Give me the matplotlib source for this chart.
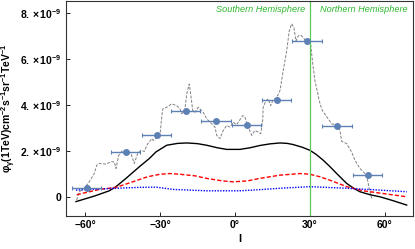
import matplotlib
matplotlib.use('Agg')
import matplotlib.pyplot as plt
import numpy as np

plt.rcParams['font.family'] = 'Liberation Sans'
plt.rcParams['mathtext.fontset'] = 'custom'
plt.rcParams['mathtext.rm'] = 'Liberation Sans'
plt.rcParams['mathtext.bf'] = 'Liberation Sans:bold'
plt.rcParams['mathtext.it'] = 'Liberation Sans:italic'

# measured flux points (units of 1e-9)
pt_l = [-59.3, -43.7, -31.3, -19.6, -7.5, 4.7, 16.7, 28.9, 40.9, 53.1]
pt_flux = [0.39, 1.94, 2.68, 3.76, 3.30, 3.14, 4.23, 6.78, 3.10, 0.95]
pt_lerr = [5.8, 5.8, 5.8, 5.8, 6.0, 5.9, 5.9, 5.9, 5.9, 5.9]

# observed profile (gray dashed)
obs_l = [-63.3, -62.3, -60.3, -58.3, -56.3, -55.3, -54.3, -51.6, -49.6, -48.3, -47.6,
         -46.5, -44.9, -42.9, -41.6, -40.3, -38.9, -37.6, -36.3, -34.9, -33.2, -32.7,
         -30.0, -29.3, -28.9, -27.3, -25.3, -23.3, -22.0, -21.3, -20.0, -19.3, -18.3,
         -17.7, -16.9, -16.0, -14.7, -12.7, -11.3, -9.3, -8.0, -7.3, -6.0, -4.7, -3.3,
         -2.0, -0.7, 0.7, 3.1, 4.0, 5.3, 6.7, 8.0, 9.3, 10.3, 11.1, 11.3, 12.4, 13.3,
         14.3, 15.1, 16.7, 17.7, 18.0, 19.3, 20.7, 21.7, 22.7, 23.6, 24.4, 25.3, 26.3,
         27.3, 28.4, 28.9, 29.7, 30.3, 30.7, 31.3, 32.0, 32.9, 33.7, 34.7, 35.3, 37.3,
         38.7, 40.0, 41.0, 42.0, 42.7, 44.7, 46.7, 48.0, 50.0, 51.3, 52.7, 53.3, 54.0,
         54.7]
obs_flux = [-0.13, 0.23, 0.38, 0.66, 1.02, 1.38, 1.46, 1.43, 1.53, 1.53, 1.24,
            1.81, 2.03, 1.96, 1.89, 1.46, 1.89, 2.03, 1.98, 2.32, 2.54, 2.46,
            2.68, 3.47, 3.83, 3.90, 4.05, 3.97, 3.83, 3.62, 3.83, 4.48, 4.91,
            4.48, 3.76, 3.68, 3.90, 3.68, 3.40, 3.18, 3.04, 2.68, 2.54, 2.89, 3.11,
            3.04, 3.25, 3.15, 3.54, 3.47, 3.04, 2.68, 2.89, 2.82, 2.75, 3.33, 3.90, 4.19, 4.26,
            3.97, 4.19, 4.33, 4.55, 4.62, 5.49, 6.35, 7.21, 7.53, 7.36, 6.78, 7.00, 7.04,
            6.93, 6.78, 6.64, 6.85, 6.64, 6.21, 5.63, 5.05, 4.62, 4.19, 3.83, 3.70, 3.40,
            3.18, 3.15, 3.12, 2.89, 2.42, 2.32, 1.95, 1.60, 1.24, 1.10, 0.95, 0.59, 0.23,
            -0.06]

# model curves
tot_l = [-63.6, -56.0, -50.3, -47.6, -43.6, -38.3, -34.3, -31.6, -27.3, -23.0, -19.3,
         -15.0, -11.3, -7.0, -3.3, 2.0, 6.0, 10.0, 14.0, 18.0, 21.0, 23.3, 27.0, 30.0,
         32.5, 35.3, 38.0, 40.7, 44.7, 47.5, 50.0, 54.0, 58.0, 63.0, 68.7]
tot_flux = [-0.20, 0.05, 0.27, 0.45, 0.81, 1.31, 1.67, 1.96, 2.25, 2.33, 2.35,
            2.32, 2.25, 2.14, 2.07, 2.07, 2.14, 2.24, 2.31, 2.35, 2.33, 2.28, 2.16, 2.03,
            1.85, 1.60, 1.32, 1.02, 0.59, 0.38, 0.23, 0.10, 0.01, -0.15, -0.35]

red_l = [-63.3, -54.3, -47.6, -40.9, -35.0, -30.0, -26.0, -22.0, -16.0, -11.3, -5.0,
         -0.7, 5.0, 10.0, 18.0, 26.0, 30.0, 34.0, 38.0, 44.7, 51.3, 60.0, 68.7]
red_flux = [0.10, 0.33, 0.42, 0.66, 0.88, 0.99, 1.02, 0.99, 0.92, 0.81, 0.70,
            0.66, 0.70, 0.81, 0.95, 1.02, 0.99, 0.88, 0.73, 0.45, 0.27, 0.14, 0.01]

blue_l = [-63.6, -47.6, -38.0, -31.6, -24.7, -11.3, 2.0, 10.0, 18.0, 30.0, 44.7, 58.0, 68.7]
blue_flux = [0.30, 0.38, 0.42, 0.43, 0.33, 0.27, 0.27, 0.32, 0.38, 0.45, 0.38, 0.30, 0.23]

fig = plt.figure(figsize=(4.15, 2.49), dpi=100)
ax = fig.add_axes([0.159, 0.133, 0.836, 0.863])

e = 1e-9
ax.plot(obs_l, np.array(obs_flux) * e, color='#808080', lw=0.7, ls=(0, (3, 1.5)))
ax.plot(tot_l, np.array(tot_flux) * e, color='black', lw=1.0)
ax.plot(red_l, np.array(red_flux) * e, color='red', lw=1.0, ls=(0, (3, 1.5)))
ax.plot(blue_l, np.array(blue_flux) * e, color='blue', lw=1.0, ls=(0, (1, 1)))
ax.errorbar(pt_l, np.array(pt_flux) * e, xerr=pt_lerr, fmt='o', color='#5E81B5',
            ms=4, elinewidth=1.0, capsize=1.5, capthick=0.8)

ax.axvline(30, color='#5BC85B', lw=0.9)
ax.text(28, 8.15e-9, 'Southern Hemisphere', color='#2DB82D', style='italic',
        fontsize=6.6, ha='right', va='center')
ax.text(34, 8.15e-9, 'Northern Hemisphere', color='#2DB82D', style='italic',
        fontsize=6.6, ha='left', va='center')

ax.set_xlim(-67.6, 71.2)
ax.set_ylim(-0.82e-9, 8.52e-9)
ax.set_xticks([-60, -30, 0, 30, 60])
ax.set_xticklabels(['\u221260\u00b0', '\u221230\u00b0', '0\u00b0', '30\u00b0', '60\u00b0'],
                   fontweight='bold')
ax.set_yticks([0, 2e-9, 4e-9, 6e-9, 8e-9])
ax.set_yticklabels(['0', r'$\mathbf{2.\times10^{-9}}$', r'$\mathbf{4.\times10^{-9}}$',
                    r'$\mathbf{6.\times10^{-9}}$', r'$\mathbf{8.\times10^{-9}}$'])
ax.tick_params(direction='in', length=3, width=0.6, labelsize=7.5, pad=3)
for lab in ax.get_yticklabels():
    lab.set_fontweight('bold')
for s in ax.spines.values():
    s.set_linewidth(0.8)
    s.set_color('#333333')

ax.set_xlabel('l', fontsize=8, fontweight='bold', labelpad=3)
ax.set_ylabel(r'$\mathbf{\varphi_{\gamma}(1TeV)cm^{-2}s^{-1}sr^{-1}TeV^{-1}}$',
              fontsize=7.5, labelpad=2)

fig.savefig('out.png', dpi=100)
